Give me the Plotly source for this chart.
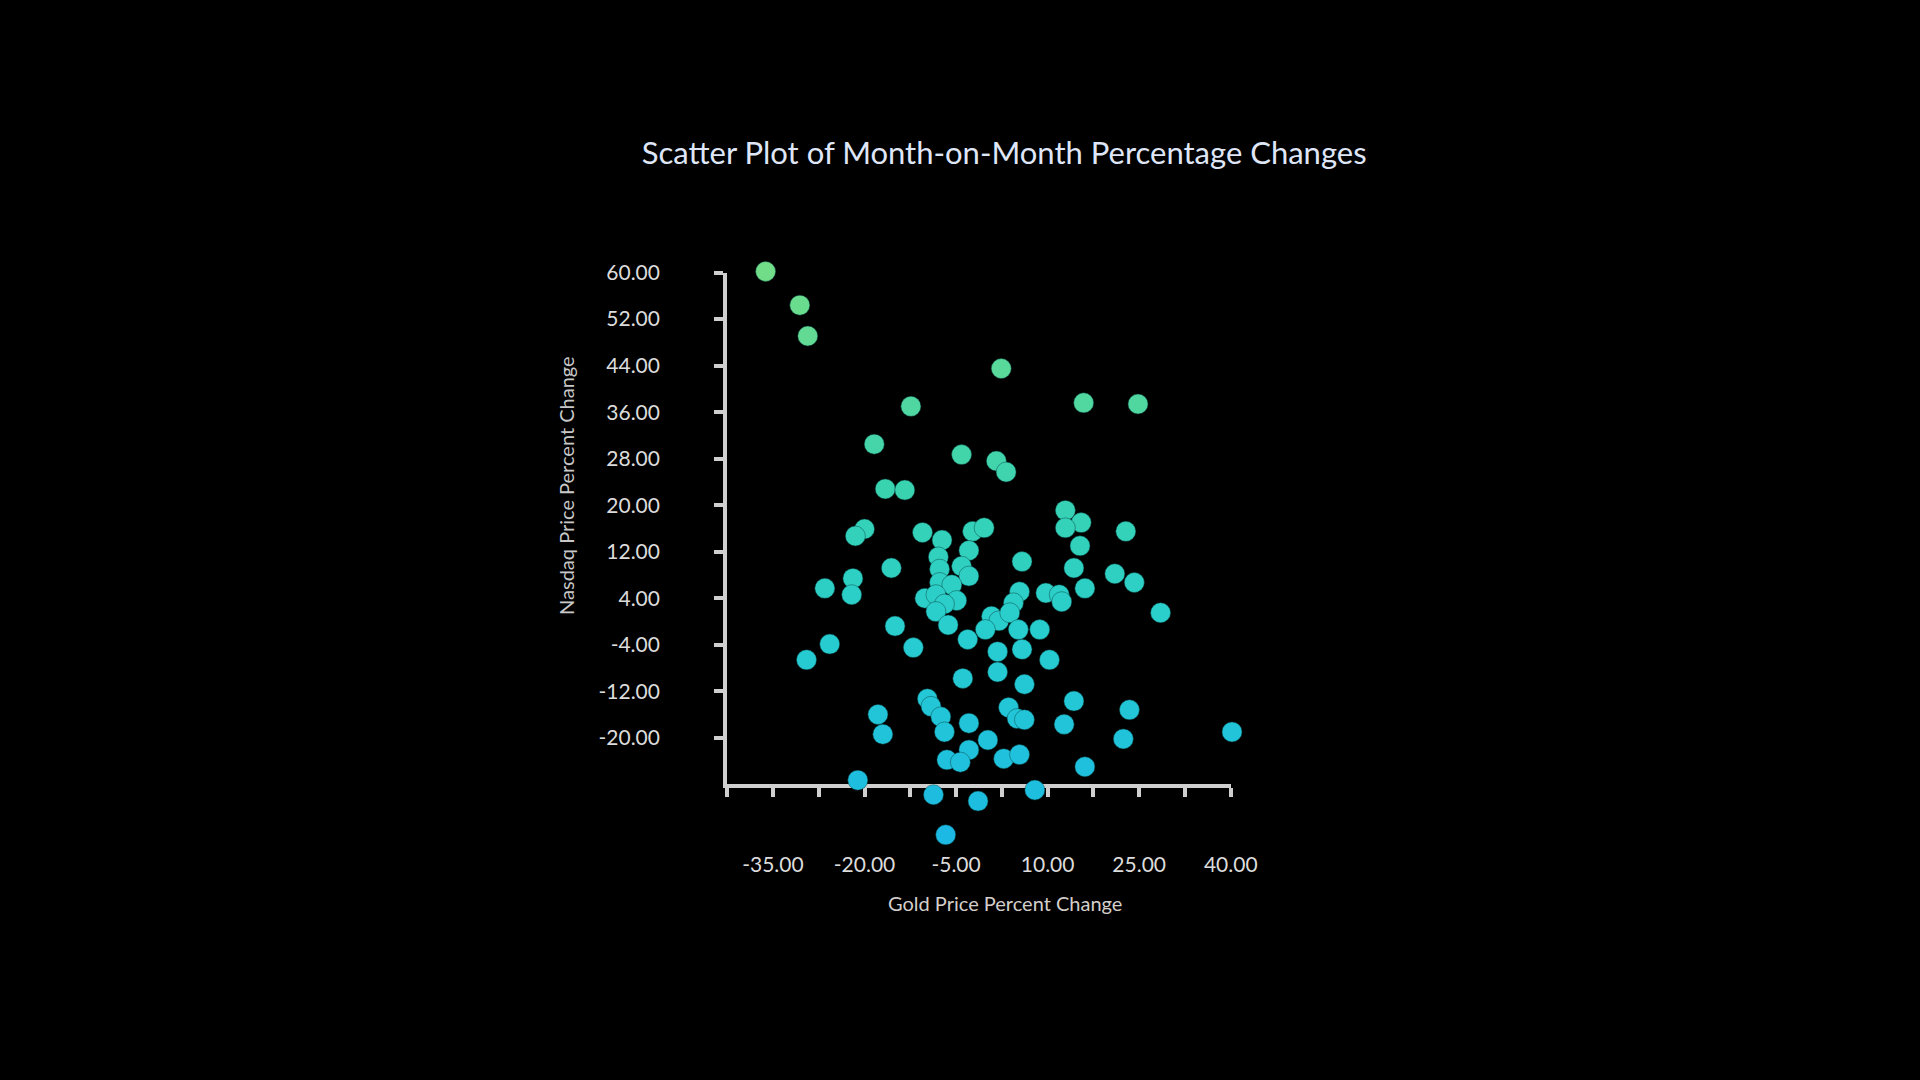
import plotly.graph_objects as go

# month-on-month percent changes
gold_change = [
    -36.2, -30.6, -29.3, 2.4, -12.4, 15.9, 24.8, -18.4, -4.1, 1.6,
    3.2, -16.6, -13.4, 12.9, 15.5, 12.9, 22.8, -20.0, -21.5, -10.5,
    -7.3, -2.3, -0.4, -2.9, -7.9, 15.3, 5.8, -15.6, -7.7, 14.3,
    -4.1, -2.9, 21.0, 24.2, -21.9, -26.5, -22.1, -7.7, -5.7, 16.1,
    5.4, 9.7, 11.9, 12.3, -10.1, -8.3, -4.9, -6.9, 4.4, 28.5,
    -8.3, 0.8, 2.0, 3.8, -15.0, -6.3, -0.2, 5.2, 8.7, -3.1,
    -12.0, -25.7, -29.5, 1.8, 5.8, 10.3, 1.8, -3.9, 6.2, -9.7,
    -9.1, 14.3, -17.8, -7.5, 3.6, 5.0, 6.2, 23.4, -2.9, 12.7,
    -17.0, -6.9, 0.2, 22.4, 40.2, -2.9, -6.5, -4.3, 2.8, 5.4,
    16.1, -21.1, -8.7, -1.4, 7.9, -6.7,
]
nasdaq_change = [
    60.2, 54.4, 49.1, 43.5, 37.0, 37.6, 37.4, 30.5, 28.7, 27.6,
    25.7, 22.8, 22.6, 19.1, 17.0, 16.1, 15.5, 15.9, 14.7, 15.3,
    14.0, 15.5, 16.1, 12.2, 11.1, 13.0, 10.3, 9.2, 9.0, 9.2,
    9.5, 7.8, 8.2, 6.7, 7.4, 5.7, 4.6, 6.7, 6.3, 5.7,
    5.1, 4.9, 4.6, 3.4, 4.0, 4.6, 3.6, 3.0, 3.2, 1.5,
    1.7, 0.9, 0.1, 1.5, -0.8, -0.6, -1.4, -1.4, -1.4, -3.1,
    -4.5, -3.9, -6.6, -5.2, -4.8, -6.6, -8.7, -9.8, -10.8, -13.3,
    -14.6, -13.7, -16.0, -16.4, -14.8, -16.7, -16.9, -15.2, -17.5, -17.7,
    -19.4, -19.0, -20.4, -20.2, -19.0, -22.1, -23.8, -24.2, -23.6, -22.9,
    -25.0, -27.3, -29.8, -30.9, -29.0, -36.7,
]

y_ticks = [-20, -12, -4, 4, 12, 20, 28, 36, 44, 52, 60]
x_ticks = [-35, -20, -5, 10, 25, 40]

# drawn axes span [-42.5, 40] x [-28, 60]; points spill past them,
# so the spheres live on a wider hidden pair of axes laid over the same pixels
axis_x = [-42.5, 40]
axis_y = [-28, 60]
data_x = [-44, 42]
data_y = [-40, 62]

axis_col = "#cfcfcf"
fam = "Lato, Open Sans, sans-serif"
label_font = dict(family=fam, size=21, color="#dcdcdc")


def dom(inner, outer):
    span = outer[1] - outer[0]
    return [(inner[0] - outer[0]) / span, (inner[1] - outer[0]) / span]


fig = go.Figure()
fig.add_trace(go.Scatter(x=[], y=[], xaxis="x", yaxis="y", hoverinfo="skip"))
fig.add_trace(go.Scatter(
    x=gold_change, y=nasdaq_change, mode="markers", xaxis="x2", yaxis="y2",
    hoverinfo="x+y",
    marker=dict(
        size=20, color=nasdaq_change, cmin=-37, cmax=60,
        colorscale=[[0, "#1bb9e4"], [0.35, "#27cdd0"], [0.6, "#38d3b2"], [1, "#72dd88"]],
        line=dict(width=0.8, color="rgba(10,70,70,0.6)"),
    ),
))

fig.update_layout(
    width=1920, height=1080,
    paper_bgcolor="black", plot_bgcolor="rgba(0,0,0,0)",
    margin=dict(l=718, r=677, t=261, b=226),
    showlegend=False,
    title=dict(
        text="Scatter Plot of Month-on-Month Percentage Changes",
        x=0.523, xanchor="center", y=0.858, yanchor="middle",
        font=dict(family=fam, size=31, color="#dfe6f7"),
    ),
    xaxis=dict(
        domain=dom(axis_x, data_x), anchor="y", range=axis_x,
        tickvals=x_ticks, ticktext=[f"{v:.2f}" for v in x_ticks],
        showgrid=False, zeroline=False,
        showline=True, linecolor=axis_col, linewidth=4,
        ticks="outside", ticklen=9, tickwidth=4, tickcolor=axis_col,
        minor=dict(dtick=7.5, tick0=-35, ticks="outside", ticklen=9, tickwidth=4, tickcolor=axis_col),
        ticklabelstandoff=50, tickfont=label_font,
    ),
    yaxis=dict(
        domain=dom(axis_y, data_y), anchor="x", range=axis_y,
        tickvals=y_ticks, ticktext=[f"{v:.2f}" for v in y_ticks],
        showgrid=False, zeroline=False,
        showline=True, linecolor=axis_col, linewidth=4,
        ticks="outside", ticklen=9, tickwidth=4, tickcolor=axis_col,
        ticklabelstandoff=50, tickfont=label_font,
    ),
    xaxis2=dict(domain=[0, 1], anchor="y2", range=data_x, visible=False),
    yaxis2=dict(domain=[0, 1], anchor="x2", range=data_y, visible=False),
    annotations=[
        dict(text="Gold Price Percent Change", xref="paper", yref="paper",
             x=0.546, y=-0.083, xanchor="center", yanchor="middle", showarrow=False,
             font=dict(family=fam, size=20, color="#d4cfcb")),
        dict(text="Nasdaq Price Percent Change", xref="paper", yref="paper",
             x=-0.29, y=0.622, xanchor="center", yanchor="middle", showarrow=False,
             textangle=-90, font=dict(family=fam, size=20, color="#c8c8c8")),
    ],
)

fig.write_html(
    "out.html",
    config={"displayModeBar": False},
    post_script="document.body.style.margin='0';document.body.style.background='black';",
)
